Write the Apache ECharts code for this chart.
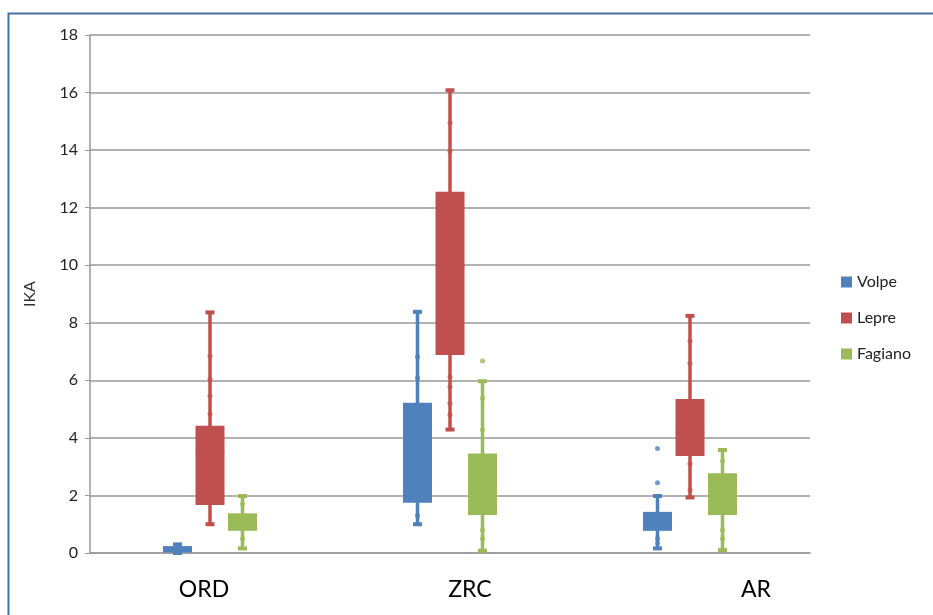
<!DOCTYPE html>
<html>
<head>
<meta charset="utf-8">
<script src="https://cdn.jsdelivr.net/npm/echarts@6/dist/echarts.min.js"></script>
<style>
html,body{margin:0;padding:0;background:#fff;}
#chart{width:933px;height:615px;}
</style>
</head>
<body>
<div id="chart"></div>
<script>
// ---- data ----
const categories = ['ORD', 'ZRC', 'AR'];
const seriesNames = ['Volpe', 'Lepre', 'Fagiano'];
const yTicks = [0, 2, 4, 6, 8, 10, 12, 14, 16, 18];
// [min, Q1, median, Q3, max] per category
const volpeBox   = [[0.0, 0.02, 0.1, 0.24, 0.3], [1.0, 1.75, 3.86, 5.22, 8.38], [0.16, 0.77, 1.1, 1.43, 1.98]];
const lepreBox   = [[1.0, 1.67, 3.48, 4.42, 8.36], [4.29, 6.88, 9.98, 12.55, 16.08], [1.93, 3.37, 4.2, 5.35, 8.24]];
const fagianoBox = [[0.16, 0.77, 1.1, 1.38, 1.98], [0.08, 1.32, 2.2, 3.46, 5.97], [0.1, 1.32, 2.0, 2.77, 3.58]];
// individual observations shown as dots [categoryIndex, value]
const volpeDots   = [[0, 0.2], [1, 6.82], [1, 6.08], [1, 1.3], [2, 3.63], [2, 2.44], [2, 0.5], [2, 0.35]];
const lepreDots   = [[0, 6.84], [0, 6.04], [0, 5.46], [0, 4.83], [0, 3.48], [1, 14.94], [1, 13.96], [1, 9.98], [1, 6.12], [1, 5.78], [1, 5.2], [1, 4.8], [2, 7.37], [2, 6.59], [2, 4.3], [2, 3.1], [2, 2.19]];
const fagianoDots = [[0, 1.7], [0, 0.5], [1, 6.67], [1, 5.38], [1, 4.27], [1, 0.8], [1, 0.5], [2, 3.2], [2, 0.8], [2, 0.5]];

const colors = ['#4F81BD', '#C0504D', '#9BBB59'];
const offsets = [-32.5, 0, 32.5];

function boxData(arr) {
  return arr.map((b, i) => [i].concat(b));
}

function makeRender(offset, color) {
  return function (params, api) {
    const c = api.value(0);
    const x = api.coord([c, api.value(1)])[0] + offset;
    const yMin = api.coord([c, api.value(1)])[1];
    const yQ1 = api.coord([c, api.value(2)])[1];
    const yMed = api.coord([c, api.value(3)])[1];
    const yQ3 = api.coord([c, api.value(4)])[1];
    const yMax = api.coord([c, api.value(5)])[1];
    const w = 29, cap = 9;
    return {
      type: 'group',
      children: [
        { type: 'line', shape: { x1: x, y1: yMin, x2: x, y2: yMax }, style: { stroke: color, lineWidth: 3.5 } },
        { type: 'rect', shape: { x: x - w / 2, y: yQ3, width: w, height: Math.max(yQ1 - yQ3, 3) }, style: { fill: color } },
        { type: 'line', shape: { x1: x - w / 2, y1: yMed, x2: x + w / 2, y2: yMed }, style: { stroke: color, lineWidth: 1 } },
        { type: 'rect', shape: { x: x - cap / 2, y: yMax - 2, width: cap, height: 4 }, style: { fill: color } },
        { type: 'rect', shape: { x: x - cap / 2, y: yMin - 2, width: cap, height: 4 }, style: { fill: color } }
      ]
    };
  };
}

const boxes = [volpeBox, lepreBox, fagianoBox];
const dots = [volpeDots, lepreDots, fagianoDots];
const series = [];
seriesNames.forEach((name, i) => {
  series.push({
    name: name,
    type: 'custom',
    renderItem: makeRender(offsets[i], colors[i]),
    itemStyle: { color: colors[i] },
    encode: { x: 0, y: [1, 2, 3, 4, 5] },
    data: boxData(boxes[i]),
    z: 2
  });
  series.push({
    name: name,
    type: 'scatter',
    symbol: 'circle',
    symbolSize: 5,
    symbolOffset: [offsets[i], 0],
    itemStyle: { color: colors[i] },
    data: dots[i],
    z: 3
  });
});

const chart = echarts.init(document.getElementById('chart'), null, { renderer: 'canvas' });
chart.setOption({
  backgroundColor: '#fff',
  animation: false,
  textStyle: { fontFamily: 'Lato, "Open Sans", sans-serif' },
  grid: { left: 90, right: 123, top: 35, bottom: 62 },
  legend: {
    orient: 'vertical',
    left: 836,
    top: 269,
    itemWidth: 11,
    itemHeight: 11,
    itemGap: 20,
    icon: 'rect',
    data: seriesNames,
    textStyle: { fontSize: 16, color: '#222', fontFamily: 'Lato, sans-serif' }
  },
  xAxis: {
    type: 'category',
    data: categories,
    axisLine: { show: true, lineStyle: { color: '#999', width: 1.5 } },
    axisTick: { show: false },
    axisLabel: { show: false },
    splitLine: { show: false }
  },
  yAxis: {
    type: 'value',
    min: yTicks[0],
    max: yTicks[yTicks.length - 1],
    interval: 2,
    name: 'IKA',
    nameLocation: 'middle',
    nameGap: 52,
    nameTextStyle: { fontSize: 16, color: '#333', fontFamily: 'Lato, sans-serif' },
    axisLine: { show: true, lineStyle: { color: '#999', width: 1.5 } },
    axisTick: { show: true, length: 5, lineStyle: { color: '#999' } },
    axisLabel: { fontSize: 16, color: '#222', margin: 12, fontFamily: 'Lato, sans-serif' },
    splitLine: { show: true, lineStyle: { color: '#999', width: 1.5 } }
  },
  graphic: [
    { type: 'rect', left: 6, top: 11, shape: { width: 1000, height: 1000 }, style: { fill: 'none', stroke: '#4a6ea9', lineWidth: 2 }, silent: true },
    { type: 'text', x: 204, y: 590, style: { text: categories[0], fontSize: 23, fill: '#000', align: 'center', verticalAlign: 'middle', fontFamily: 'Lato, sans-serif' } },
    { type: 'text', x: 470, y: 590, style: { text: categories[1], fontSize: 23, fill: '#000', align: 'center', verticalAlign: 'middle', fontFamily: 'Lato, sans-serif' } },
    { type: 'text', x: 756, y: 590, style: { text: categories[2], fontSize: 23, fill: '#000', align: 'center', verticalAlign: 'middle', fontFamily: 'Lato, sans-serif' } }
  ],
  series: series
});
</script>
</body>
</html>
